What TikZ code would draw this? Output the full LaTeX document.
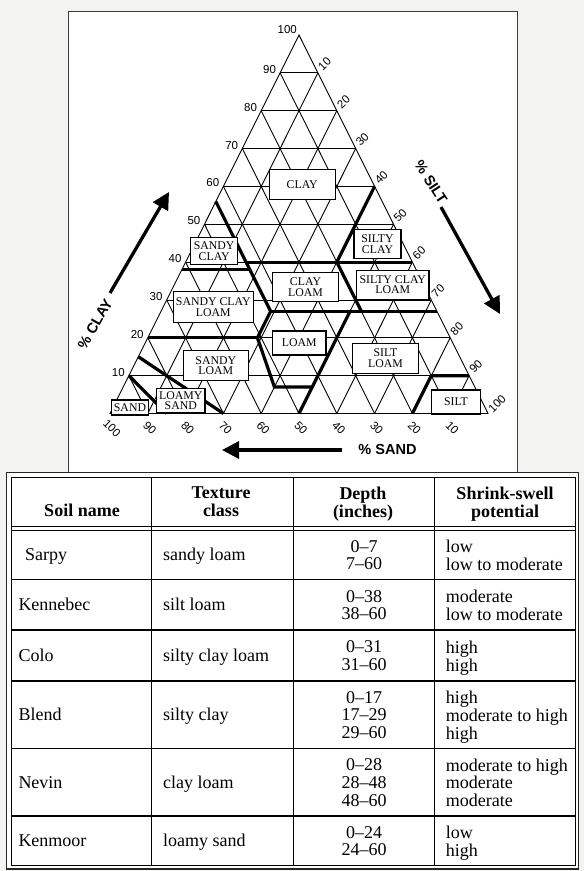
\documentclass[tikz,border=0pt]{standalone}
\usepackage{fontspec}
\setmainfont{Liberation Serif}
\newfontfamily\arialf{Liberation Sans}
\usetikzlibrary{arrows.meta}
\definecolor{bgc}{RGB}{243,243,241}
\definecolor{panelc}{RGB}{60,60,60}
\begin{document}
\begin{tikzpicture}[x=1pt,y=-1pt,
  declare function={tx(\pc,\ps)=1.10*\ps+2.99*\pc+4.88*(100-\pc-\ps); ty(\pc)=413.5-3.785*\pc;},
  gridline/.style={line width=0.9pt,black},
  bound/.style={line width=3.2pt,line join=miter,black},
  region/.style={draw=black,line width=1.1pt,fill=white,inner sep=0pt,align=center,font=\fontsize{11.8}{10.7}\selectfont},
  tick/.style={font=\arialf\fontsize{11.5}{12}\selectfont,inner sep=0pt},
  axlabel/.style={font=\arialf\bfseries\fontsize{14.5}{15}\selectfont,inner sep=0pt},
  axarrow/.style={line width=3.3pt,-{Triangle[length=17pt,width=17pt]}},
  cell/.style={font=\fontsize{18}{17.7}\selectfont,inner sep=0pt},
  hcell/.style={font=\bfseries\fontsize{18}{17.7}\selectfont,inner sep=0pt,align=center},
  tline/.style={line width=1.1pt,black}
]
\useasboundingbox (0,0) rectangle (584,871);
\fill[bgc] (0,0) rectangle (584,871);
\fill[white] (68.5,11.5) rectangle (517.5,473);
\draw[panelc,line width=1pt] (68.5,473) -- (68.5,11.5) -- (517.5,11.5) -- (517.5,473);

% corners
\coordinate (BL) at ({tx(0,100)},{ty(0)});
\coordinate (AP) at ({tx(100,0)},{ty(100)});
\coordinate (BR) at ({tx(0,0)},{ty(0)});

% grid
\foreach \i in {10,20,...,90}{
  \draw[gridline] ({tx(\i,100-\i)},{ty(\i)}) -- ({tx(\i,0)},{ty(\i)});
  \draw[gridline] ({tx(0,\i)},{ty(0)}) -- ({tx(100-\i,\i)},{ty(100-\i)});
  \draw[gridline] ({tx(0,100-\i)},{ty(0)}) -- ({tx(100-\i,0)},{ty(100-\i)});
}
\draw[gridline] (BL) -- (AP) -- (BR) -- cycle;

% boundary points (clay, sand)
\coordinate (k1) at ({tx(56,44)},{ty(56)});
\coordinate (k2) at ({tx(27,44)},{ty(27)});
\coordinate (k3) at ({tx(20,51)},{ty(20)});
\coordinate (k4) at ({tx(7,53)},{ty(7)});
\coordinate (k5) at ({tx(7,43)},{ty(7)});
\coordinate (k6) at ({tx(38,62)},{ty(38)});
\coordinate (k7) at ({tx(38,44)},{ty(38)});
\coordinate (k8) at ({tx(40,44)},{ty(40)});
\coordinate (k9) at ({tx(40,0)},{ty(40)});
\coordinate (k10) at ({tx(60,0)},{ty(60)});
\coordinate (k11) at ({tx(40,20)},{ty(40)});
\coordinate (k12) at ({tx(27,20)},{ty(27)});
\coordinate (k13) at ({tx(27,0)},{ty(27)});
\coordinate (k14) at ({tx(20,80)},{ty(20)});
\coordinate (k15) at ({tx(0,50)},{ty(0)});
\coordinate (k16) at ({tx(27,23)},{ty(27)});
\coordinate (k17) at ({tx(0,20)},{ty(0)});
\coordinate (k18) at ({tx(10,10)},{ty(10)});
\coordinate (k19) at ({tx(10,0)},{ty(10)});
\coordinate (k20) at ({tx(15,85)},{ty(15)});
\coordinate (k21) at ({tx(0,70)},{ty(0)});
\coordinate (k22) at ({tx(10,90)},{ty(10)});
\coordinate (k23) at ({tx(0,85)},{ty(0)});

\draw[bound] (k1) -- (k2) -- (k3) -- (k4) -- (k5);
\draw[bound] (k6) -- (k7);
\draw[bound] (k8) -- (k9);
\draw[bound] (k10) -- (k11) -- (k12);
\draw[bound] (k2) -- (k13);
\draw[bound] (k14) -- (k3);
\draw[bound] (k15) -- (k16);
\draw[bound] (k17) -- (k18) -- (k19);
\draw[bound] (k20) -- (k21);
\draw[bound] (k22) -- (k23);

% region boxes
\node[region,minimum width=65.7pt,minimum height=30pt] (clay) at (302.2,184.3) {CLAY};
\node[region,minimum width=47pt,minimum height=27pt] (sandyclay) at (214.2,250.8) {SANDY\\CLAY};
\node[region,minimum width=47pt,minimum height=29pt] (siltyclay) at (377.5,243.8) {SILTY\\CLAY};
\node[region,minimum width=65.6pt,minimum height=29.4pt] (clayloam) at (305.5,287) {CLAY\\LOAM};
\node[region,minimum width=72.3pt,minimum height=29.3pt] (siltyclayloam) at (392.8,284.7) {SILTY CLAY\\LOAM};
\node[region,minimum width=80pt,minimum height=30.7pt] (sandyclayloam) at (213.3,307) {SANDY CLAY\\LOAM};
\node[region,minimum width=53.3pt,minimum height=24pt] (loam) at (299.3,343) {LOAM};
\node[region,minimum width=65pt,minimum height=30pt] (sandyloam) at (215.8,365.7) {SANDY\\LOAM};
\node[region,minimum width=65.7pt,minimum height=30pt] (siltloam) at (385.5,358.3) {SILT\\LOAM};
\node[region,minimum width=48.3pt,minimum height=24pt] (loamysand) at (180.8,400.5) {LOAMY\\SAND};
\node[region,minimum width=37.5pt,minimum height=15pt] (sand) at (130,407.5) {SAND};
\node[region,minimum width=49pt,minimum height=24pt] (silt) at (456,402) {SILT};

% tick labels
\foreach \i in {10,20,...,90}{
  \node[tick,anchor=east] (lc\i) at ({tx(\i,100-\i)-4},{ty(\i)-3.4}) {\i};
}
\node[tick,anchor=east] (lc100) at ({tx(100,0)-2},{ty(100)-5.5}) {100};
\foreach \rv in {10,20,...,90}{
  \node[tick,rotate=45] (rs\rv) at ({tx(100-\rv,0)+6.7},{ty(100-\rv)-9}) {\rv};
}
\node[tick,rotate=45] (rs100) at ({tx(0,0)+9},{ty(0)-10}) {100};
\foreach \bv in {100,90,...,10}{
  \node[tick,rotate=-45] (bs\bv) at ({tx(0,\bv)+2},{ty(0)+14.5}) {\bv};
}

% axis arrows
\coordinate (ca0) at (110,293);
\coordinate (ca1) at (169,192);
\draw[axarrow] (ca0) -- (ca1);
\node[axlabel,rotate=60] (clayl) at (95,324) {\% CLAY};
\coordinate (sa0) at (441,207);
\coordinate (sa1) at (500,314);
\draw[axarrow] (sa0) -- (sa1);
\node[axlabel,rotate=-57] (siltl) at (431,182) {\% SILT};
\coordinate (da0) at (342,450);
\coordinate (da1) at (222,450);
\draw[axarrow] (da0) -- (da1);
\node[axlabel] (sandl) at (387.5,450) {\% SAND};

% table
\fill[white] (6.5,472.5) rectangle (578.5,869);
\draw[line width=1.8pt,black!85] (6.5,472.5) rectangle (578.5,869);
\draw[line width=1pt] (11,477) rectangle (575,865);
\foreach \xx in {151.7,293.5,434.7} \draw[tline] (\xx,477) -- (\xx,865);
\draw[line width=0.9pt] (11,526.7) -- (575,526.7) (11,530) -- (575,530);
\foreach \yy in {579.5,630,681,748.5,816} \draw[tline] (11,\yy) -- (575,\yy);

% header
\node[hcell,anchor=base] (hsoil) at (82,516.6) {Soil name};
\node[hcell,anchor=north] (htex) at (221,486.9) {Texture\\class};
\node[hcell,anchor=north] (hdep) at (363,486.9) {Depth\\(inches)};
\node[hcell,anchor=north] (hshr) at (505,486.9) {Shrink-swell\\potential};

% rows
\node[cell,anchor=base west] (n1) at (25,560.75) {Sarpy};
\node[cell,anchor=base west] (t1) at (163,560.75) {sandy loam};
\node[cell,anchor=north,align=center] (d1) at (364,539.9) {0–7\\7–60};
\node[cell,anchor=north west,align=left] (p1) at (445.7,539.9) {low\\low to moderate};

\node[cell,anchor=base west] (n2) at (18.3,610.75) {Kennebec};
\node[cell,anchor=base west] (t2) at (163,610.75) {silt loam};
\node[cell,anchor=north,align=center] (d2) at (364,589.9) {0–38\\38–60};
\node[cell,anchor=north west,align=left] (p2) at (445.7,589.9) {moderate\\low to moderate};

\node[cell,anchor=base west] (n3) at (18.3,661.5) {Colo};
\node[cell,anchor=base west] (t3) at (163,661.5) {silty clay loam};
\node[cell,anchor=north,align=center] (d3) at (364,640.65) {0–31\\31–60};
\node[cell,anchor=north west,align=left] (p3) at (445.7,640.65) {high\\high};

\node[cell,anchor=base west] (n4) at (18.3,720.75) {Blend};
\node[cell,anchor=base west] (t4) at (163,720.75) {silty clay};
\node[cell,anchor=north,align=center] (d4) at (364,691.05) {0–17\\17–29\\29–60};
\node[cell,anchor=north west,align=left] (p4) at (445.7,691.05) {high\\moderate to high\\high};

\node[cell,anchor=base west] (n5) at (18.3,788.25) {Nevin};
\node[cell,anchor=base west] (t5) at (163,788.25) {clay loam};
\node[cell,anchor=north,align=center] (d5) at (364,758.55) {0–28\\28–48\\48–60};
\node[cell,anchor=north west,align=left] (p5) at (445.7,758.55) {moderate to high\\moderate\\moderate};

\node[cell,anchor=base west] (n6) at (18.3,846.75) {Kenmoor};
\node[cell,anchor=base west] (t6) at (163,846.75) {loamy sand};
\node[cell,anchor=north,align=center] (d6) at (364,825.9) {0–24\\24–60};
\node[cell,anchor=north west,align=left] (p6) at (445.7,825.9) {low\\high};
\end{tikzpicture}
\end{document}
